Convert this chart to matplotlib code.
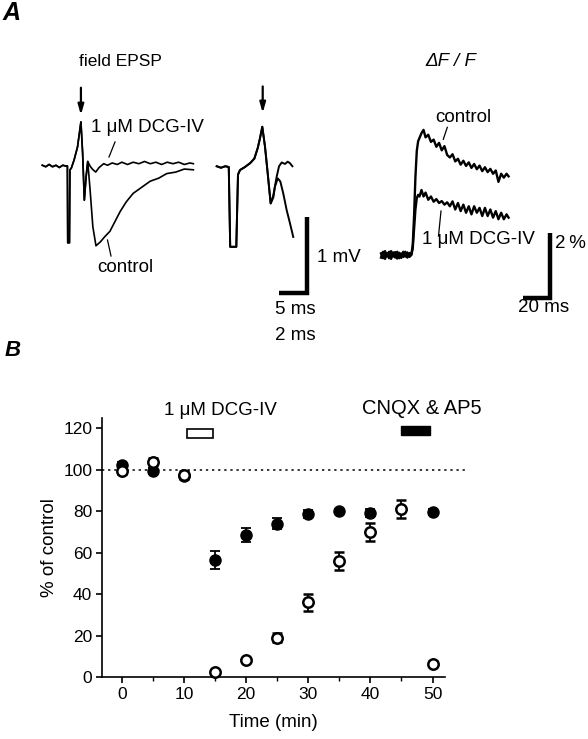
import matplotlib

matplotlib.use("Agg")
import matplotlib.pyplot as plt
from matplotlib.lines import Line2D

plt.rcParams["font.family"] = ["Liberation Sans", "DejaVu Sans"]

W, H = 588, 739

# ---- panel A: field EPSP, slow sweep (ms, mV) ----
epsp_common_t = [0, 0.6, 1.2, 1.8, 2.4, 3.0, 3.6, 4.1, 4.42, 4.48, 4.78, 4.86, 5.1,
                 5.6, 6.2, 6.6, 6.8, 7.1, 7.4, 7.7, 8.0]
epsp_common_v = [0.01, -0.01, 0.02, -0.01, 0.01, -0.02, 0.01, 0.0, 0.0, -1.01, -1.01,
                 -0.05, -0.03, 0.08, 0.25, 0.47, 0.58, 0.17, -0.45, -0.15, 0.06]
epsp_ctrl_t = [8.4, 8.9, 9.45, 10.2, 11.0, 11.9, 12.8, 13.7, 14.8, 16.0, 17.5, 19.0,
               20.5, 21.9, 23.5, 25.0, 26.6]
epsp_ctrl_v = [-0.3, -0.8, -1.05, -1.0, -0.93, -0.86, -0.73, -0.6, -0.47, -0.36, -0.28,
               -0.2, -0.16, -0.1, -0.08, -0.04, -0.05]
epsp_dcg_t = [8.4, 8.8, 9.4, 10.0, 10.8, 11.5, 12.3, 13.2, 14.0, 15.0, 16.0, 17.0, 18.0,
              19.0, 20.0, 21.0, 22.0, 23.0, 24.0, 25.0, 26.0, 26.6]
epsp_dcg_v = [0.0, -0.04, -0.08, -0.02, 0.03, 0.01, 0.04, 0.02, 0.05, 0.02, 0.05, 0.03,
              0.06, 0.03, 0.05, 0.02, 0.05, 0.03, 0.05, 0.02, 0.04, 0.03]

# ---- panel A: field EPSP, fast sweep (ms, mV) ----
fast_common_t = [0, 0.3, 0.6, 0.85, 0.95, 1.38, 1.5, 1.64, 1.99, 2.35, 2.65, 2.89,
                 3.05, 3.21, 3.4, 3.59, 3.8]
fast_common_v = [0.01, -0.01, 0.01, 0.0, -1.05, -1.05, -0.1, -0.04, 0.0, 0.05, 0.11,
                 0.25, 0.38, 0.53, 0.27, -0.08, -0.48]
fast_ctrl_t = [3.99, 4.1, 4.3, 4.48, 4.69, 4.93, 5.16, 5.39]
fast_ctrl_v = [-0.4, -0.26, -0.15, -0.19, -0.35, -0.57, -0.74, -0.92]
fast_dcg_t = [3.99, 4.22, 4.39, 4.58, 4.81, 5.0, 5.16, 5.33]
fast_dcg_v = [-0.37, -0.13, 0.01, 0.06, 0.04, 0.07, 0.05, 0.01]

# ---- panel A: dF/F (ms, %) ----
dff_t = [0, 1.5, 3, 4.5, 6, 7.5, 9, 10.5, 12, 13.5, 15, 16.5, 18, 19.5, 21, 22.5,
         23.5, 24.5, 25.5, 26.5, 27.5, 28.5, 30, 31.5, 33, 35, 37, 39, 41, 43, 45,
         47, 49, 51, 53, 55, 57, 59, 61, 63, 65, 67, 69, 71, 73, 75, 77, 79, 81, 83,
         85, 87, 89, 91, 93, 94.5]
dff_ctrl = [0.05, -0.1, 0.12, -0.05, 0.1, -0.12, 0.08, -0.08, 0.1, -0.1, 0.05, -0.06,
            0.1, -0.08, 0.06, 0.02, 0.3, 1.2, 2.4, 3.2, 3.5, 3.6, 3.75, 3.85, 3.62,
            3.7, 3.48, 3.55, 3.33, 3.45, 3.22, 3.35, 3.08, 3.0, 3.1, 2.88, 2.96, 2.78,
            2.9, 2.74, 2.85, 2.68, 2.8, 2.64, 2.75, 2.58, 2.7, 2.55, 2.65, 2.5, 2.6,
            2.25, 2.5, 2.38, 2.5, 2.42]
dff_dcg = [-0.08, 0.1, -0.12, 0.06, -0.1, 0.12, -0.05, 0.09, -0.11, 0.07, -0.09, 0.1,
           -0.05, 0.08, -0.06, 0.0, 0.2, 0.8, 1.4, 1.75, 1.85, 1.8, 2.0, 1.8, 1.92,
           1.7, 1.8, 1.64, 1.72, 1.6, 1.66, 1.55, 1.62, 1.5, 1.65, 1.4, 1.6, 1.35,
           1.55, 1.3, 1.5, 1.25, 1.5, 1.3, 1.45, 1.2, 1.45, 1.2, 1.4, 1.15, 1.35, 1.1,
           1.3, 1.1, 1.25, 1.15]

# ---- panel B: time course (% of control) ----
open_time = [0, 5, 10, 15, 20, 25, 30, 35, 40, 45, 50]
open_pct = [99.5, 104, 97.5, 2.5, 8, 19, 36, 56, 70, 81, 6.5]
open_err = [1.5, 1.5, 2, 1, 1, 2, 4, 4.5, 4.5, 4.5, 1]
filled_time = [0, 5, 10, 15, 20, 25, 30, 35, 40, 50]
filled_pct = [102.5, 99.5, 97, 56.5, 68.5, 74, 78.5, 80, 79, 79.5]
filled_err = [1.5, 1.5, 1.5, 4.5, 3.5, 2.5, 2, 1, 2, 1.5]
dcg_period = (10.5, 14.6)
cnqx_period = (45.0, 49.6)


def fx(x):
    return x / W


def fy(y):
    return 1 - y / H


def trace_axes(fig, x0, y0, sx, sy, name):
    ax = fig.add_axes([0, 0, 1, 1], label=name)
    ax.set_xlim(-x0 / sx, (W - x0) / sx)
    ax.set_ylim((y0 - H) / sy, y0 / sy)
    ax.axis("off")
    ax.patch.set_visible(False)
    return ax


def leader(fig, x1, y1, x2, y2):
    fig.add_artist(Line2D([fx(x1), fx(x2)], [fy(y1), fy(y2)],
                          transform=fig.transFigure, color="black", lw=0.9))


def scale_bar(ax, x, y, dx, dy):
    ax.plot([x - dx, x, x], [y, y, y + dy], color="black", lw=3.2,
            solid_joinstyle="miter", solid_capstyle="butt", clip_on=False)


def arrow(ax, x, y_tip, y_tail):
    ax.annotate("", xy=(x, y_tip), xytext=(x, y_tail),
                arrowprops=dict(arrowstyle="-|>,head_length=0.6,head_width=0.17",
                                color="black", lw=1.6, shrinkA=0, shrinkB=0))


def main() -> None:
    fig = plt.figure(figsize=(W / 100, H / 100), dpi=100)

    # slow EPSP sweep
    ax_l = trace_axes(fig, 42.3, 166, 5.68, 76, "epsp_slow")
    ax_l.plot(epsp_common_t + epsp_ctrl_t, epsp_common_v + epsp_ctrl_v,
              color="black", lw=1.2)
    ax_l.plot(epsp_common_t + epsp_dcg_t, epsp_common_v + epsp_dcg_v,
              color="black", lw=1.2)
    arrow(ax_l, 6.8, 0.67, 1.03)
    scale_bar(ax_l, 46.6, -1.67, 5, 1)

    # fast EPSP sweep
    ax_m = trace_axes(fig, 216.7, 167, 14.2, 76, "epsp_fast")
    ax_m.plot(fast_common_t + fast_ctrl_t, fast_common_v + fast_ctrl_v,
              color="black", lw=1.4)
    ax_m.plot(fast_common_t + fast_dcg_t, fast_common_v + fast_dcg_v,
              color="black", lw=1.4)
    arrow(ax_m, 3.24, 0.71, 1.06)

    # dF/F traces
    ax_r = trace_axes(fig, 381, 255, 1.35, 32.5, "dff")
    ax_r.plot(dff_t, dff_ctrl, color="black", lw=1.7)
    ax_r.plot(dff_t, dff_dcg, color="black", lw=1.7)
    scale_bar(ax_r, 125.2, -1.32, 20, 2)

    # panel A texts
    fig.text(fx(3), fy(13), "A", fontsize=18, fontweight="bold", style="italic",
             va="center")
    fig.text(fx(120), fy(62), "field EPSP", fontsize=12.5, ha="center", va="center")
    fig.text(fx(91), fy(128), "1 \u03bcM DCG-IV", fontsize=13.5, va="center")
    leader(fig, 115, 142, 109, 157)
    fig.text(fx(97), fy(267), "control", fontsize=13.5, va="center")
    leader(fig, 107.5, 240, 111, 256)
    fig.text(fx(317), fy(257), "1 mV", fontsize=13.5, va="center")
    fig.text(fx(295), fy(309), "5 ms", fontsize=13.5, ha="center", va="center")
    fig.text(fx(295), fy(335), "2 ms", fontsize=13.5, ha="center", va="center")
    fig.text(fx(451), fy(61), "\u0394F / F", fontsize=13.5, style="italic",
             ha="center", va="center")
    fig.text(fx(435), fy(118), "control", fontsize=13.5, va="center")
    leader(fig, 447.3, 127.3, 443.3, 139.3)
    fig.text(fx(422), fy(240), "1 \u03bcM DCG-IV", fontsize=13.5, va="center")
    leader(fig, 441, 211, 438.5, 236)
    fig.text(fx(555), fy(244), "2\u2009%", fontsize=13.5, va="center")
    fig.text(fx(544), fy(308), "20 ms", fontsize=13.5, ha="center", va="center")

    # panel B
    fig.text(fx(5), fy(351), "B", fontsize=16, fontweight="bold", style="italic",
             va="center")
    ax = fig.add_axes([fx(102), fy(677), (445 - 102) / W, (677 - 418) / H])
    ax.set_xlim(-3.18, 52.0)
    ax.set_ylim(0, 125)
    ax.axhline(100, xmin=0, xmax=1.06, color="black", lw=1.1, ls=(0, (1.5, 2.5)),
               clip_on=False)
    ax.errorbar(filled_time, filled_pct, yerr=filled_err, fmt="o", color="black",
                mfc="black", mec="black", ms=8, capsize=3.6, elinewidth=1.3,
                capthick=1.3, clip_on=False, zorder=3)
    ax.errorbar(open_time, open_pct, yerr=open_err, fmt="o", color="black",
                mfc="white", mec="black", mew=1.8, ms=7.5, capsize=3.6,
                elinewidth=1.3, capthick=1.3, clip_on=False, zorder=4)
    ax.barh(117.5, dcg_period[1] - dcg_period[0], left=dcg_period[0], height=4.5,
            color="white", edgecolor="black", lw=1.2, clip_on=False)
    ax.barh(119, cnqx_period[1] - cnqx_period[0], left=cnqx_period[0],
            height=4, color="black", edgecolor="black", lw=1.0, clip_on=False)
    ax.text(15.9, 128.5, "1 \u03bcM DCG-IV", fontsize=13.5, ha="center",
            va="center", clip_on=False)
    ax.text(38.6, 129.5, "CNQX & AP5", fontsize=14.5, ha="left", va="center",
            clip_on=False)

    ax.spines[["top", "right"]].set_visible(False)
    for side in ("left", "bottom"):
        ax.spines[side].set_linewidth(1.2)
    ax.set_xticks([0, 10, 20, 30, 40, 50])
    ax.set_xticks([5, 15, 25, 35, 45], minor=True)
    ax.set_yticks([0, 20, 40, 60, 80, 100, 120])
    ax.tick_params(axis="both", which="major", direction="out", length=4.5,
                   width=1.2, labelsize=12.5, pad=2.5)
    ax.tick_params(axis="x", which="minor", direction="out", length=3, width=1.0)
    ax.set_xlabel("Time (min)", fontsize=13.5, labelpad=9)
    ax.set_ylabel("% of control", fontsize=13.5, labelpad=4)

    fig.savefig("out.png", dpi=100)


if __name__ == "__main__":
    main()
